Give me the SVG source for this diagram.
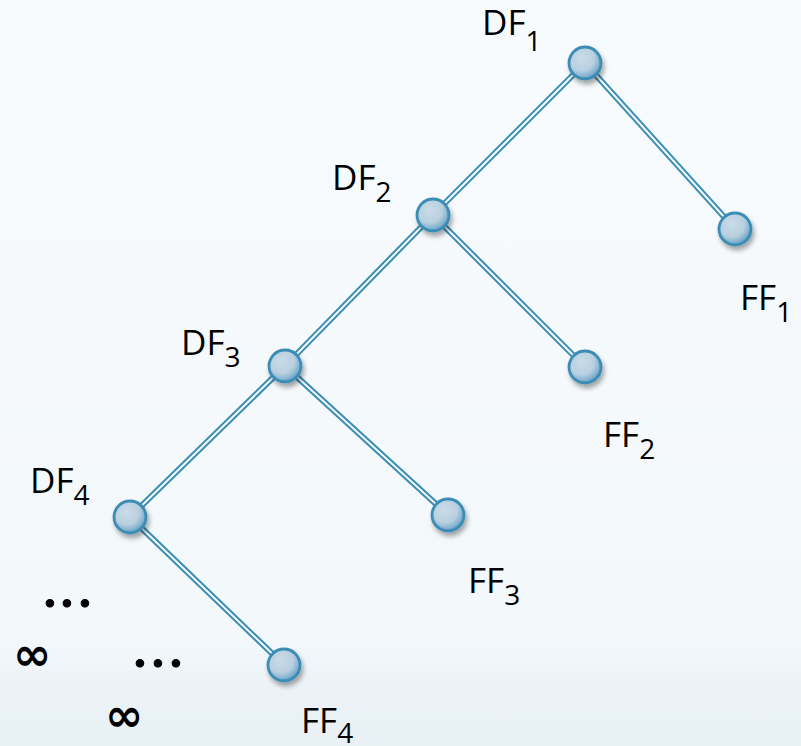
<svg xmlns="http://www.w3.org/2000/svg" width="801" height="746" viewBox="0 0 801 746">
<defs>
<linearGradient id="bg" x1="0" y1="0" x2="0" y2="1">
<stop offset="0" stop-color="#f8fbfd"/>
<stop offset="0.85" stop-color="#f3f8fb"/>
<stop offset="0.92" stop-color="#ecf3f7"/>
<stop offset="1" stop-color="#e8f1f5"/>
</linearGradient>
<radialGradient id="ball" cx="0.4" cy="0.35" r="0.7">
<stop offset="0" stop-color="#cadbe7"/>
<stop offset="0.55" stop-color="#b9d0e0"/>
<stop offset="0.8" stop-color="#86b4d0"/>
<stop offset="1" stop-color="#4e93bb"/>
</radialGradient>
<filter id="sh" x="-50%" y="-50%" width="200%" height="200%">
<feGaussianBlur in="SourceAlpha" stdDeviation="2.5"/>
<feOffset dx="2" dy="4" result="b"/>
<feComponentTransfer><feFuncA type="linear" slope="0.35"/></feComponentTransfer>
<feMerge><feMergeNode/><feMergeNode in="SourceGraphic"/></feMerge>
</filter>
</defs>
<style>
.e1{stroke:#3a8db3;stroke-width:6;fill:none}
.e2{stroke:#f4f9fc;stroke-width:2;fill:none}
.n{fill:url(#ball);stroke:#3a8db5;stroke-width:2.8;filter:url(#sh)}
.t{font-family:"Open Sans","DejaVu Sans",sans-serif;font-size:35px;fill:#000}
.s{font-size:28px}
.d{font-family:Lato,"DejaVu Sans",sans-serif;font-size:50px;font-weight:bold;fill:#000;stroke:#000;stroke-width:1;stroke-linejoin:round}
.inf{font-family:"DejaVu Sans",sans-serif;font-size:46px;font-weight:bold;fill:#000}
</style>
<rect width="801" height="746" fill="url(#bg)"/>
<g id="connectors">
<g class="e1">
<line x1="585" y1="63" x2="433" y2="215"/>
<line x1="585" y1="63" x2="735" y2="229"/>
<line x1="433" y1="215" x2="285" y2="366"/>
<line x1="433" y1="215" x2="585" y2="367"/>
<line x1="285" y1="366" x2="130" y2="517"/>
<line x1="285" y1="366" x2="448" y2="515"/>
<line x1="130" y1="517" x2="284" y2="665"/>
</g>
<g class="e2">
<line x1="585" y1="63" x2="433" y2="215"/>
<line x1="585" y1="63" x2="735" y2="229"/>
<line x1="433" y1="215" x2="285" y2="366"/>
<line x1="433" y1="215" x2="585" y2="367"/>
<line x1="285" y1="366" x2="130" y2="517"/>
<line x1="285" y1="366" x2="448" y2="515"/>
<line x1="130" y1="517" x2="284" y2="665"/>
</g>
</g>
<g id="DF1"><circle class="n" cx="585" cy="63" r="16"/><text class="t" x="482" y="35">DF<tspan class="s" dy="16">1</tspan></text></g>
<g id="DF2"><circle class="n" cx="433" cy="215" r="16"/><text class="t" x="332" y="190">DF<tspan class="s" dy="12">2</tspan></text></g>
<g id="DF3"><circle class="n" cx="285" cy="366" r="16"/><text class="t" x="181" y="355">DF<tspan class="s" dy="12">3</tspan></text></g>
<g id="DF4"><circle class="n" cx="130" cy="517" r="16"/><text class="t" x="30" y="493">DF<tspan class="s" dy="12">4</tspan></text></g>
<g id="FF1"><circle class="n" cx="735" cy="229" r="16"/><text class="t" x="740" y="310">FF<tspan class="s" dy="12">1</tspan></text></g>
<g id="FF2"><circle class="n" cx="585" cy="367" r="16"/><text class="t" x="603" y="447">FF<tspan class="s" dy="12">2</tspan></text></g>
<g id="FF3"><circle class="n" cx="448" cy="515" r="16"/><text class="t" x="468" y="593">FF<tspan class="s" dy="12">3</tspan></text></g>
<g id="FF4"><circle class="n" cx="284" cy="665" r="16"/><text class="t" x="301" y="733">FF<tspan class="s" dy="10">4</tspan></text></g>
<text class="d" x="44 61 79" y="607">...</text>
<text class="d" x="134 152 170" y="667">...</text>
<text class="inf" x="13" y="670">∞</text>
<text class="inf" x="105" y="731">∞</text>
</svg>
